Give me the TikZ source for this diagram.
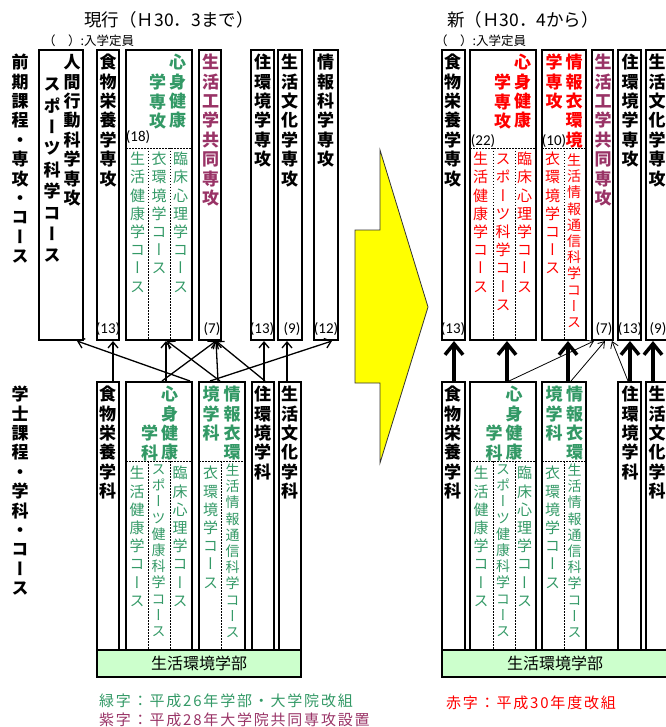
\documentclass[tikz,border=0pt]{standalone}
\usepackage{fontspec}
\setmainfont{Noto Sans CJK JP}
\newfontfamily\vjp[RawFeature=+vert]{Noto Sans CJK JP}
\newfontfamily\jpls[LetterSpace=12]{Noto Sans CJK JP}
\newfontfamily\numf{Carlito}
\usetikzlibrary{arrows.meta}
\definecolor{jgreen}{RGB}{51,153,102}
\definecolor{jpurple}{RGB}{153,51,102}
\definecolor{jred}{RGB}{255,0,0}
\definecolor{facgreen}{RGB}{204,255,204}
\definecolor{yarrow}{RGB}{255,255,0}
\newcommand\vstr{\rule{0pt}{.9em}}
\newcommand\bx[6][]{\node[box,#1,minimum width={(#5-#3)*1pt},minimum height={(#6-#4)*1pt}] (#2) at ({(#3+#5)/2},{(#4+#6)/2}) {};}
\begin{document}
\begin{tikzpicture}[x=1pt,y=-1pt,
  box/.style={draw,line width=2pt,inner sep=0pt},
  hb/.style={inner sep=0pt,anchor=north,align=center,font={\vjp\bfseries\fontsize{17}{19.4}\selectfont}},
  cs/.style={inner sep=0pt,anchor=north,align=center,font={\vjp\fontsize{15}{18.2}\selectfont}},
  csn/.style={inner sep=0pt,anchor=north,align=center,font={\vjp\fontsize{14}{16.2}\selectfont}},
  num/.style={inner sep=0pt,font={\numf\fontsize{15}{17}\selectfont}},
  sep/.style={line width=0.8pt,dash pattern=on 1.5pt off 1.5pt},
  thinarr/.style={line width=1.3pt,-{Straight Barb[length=6pt,width=10pt]}},
  thickarr/.style={line width=3.5pt,-{Straight Barb[length=11pt,width=18pt]}},
  hairarr/.style={line width=0.8pt,-{Straight Barb[length=6pt,width=8pt]}},
  foot/.style={inner sep=0pt,anchor=base west,font={\jpls\fontsize{15}{18}\selectfont}}
]
\useasboundingbox (0,0) rectangle (665,727);

% ---------- yellow arrow ----------
\filldraw[fill=yarrow,draw=black!80,line width=0.8pt]
  (380,150) -- (428,307) -- (380,463) -- (380,383) -- (355,383) -- (355,230) -- (380,230) -- cycle;

% ---------- titles ----------
\node[inner sep=0pt,anchor=base,font={\fontsize{17.5}{20}\selectfont}] (tL) at (169,26.5) {現行（Ｈ30．3まで）};
\node[inner sep=0pt,anchor=base,font={\fontsize{17.5}{20}\selectfont}] (tR) at (523,26.5) {新（Ｈ30．4から）};
\node[inner sep=0pt,anchor=base west,font={\fontsize{12.5}{14}\selectfont}] (capL) at (43,45.6) {（　）:入学定員};
\node[inner sep=0pt,anchor=base west,font={\fontsize{12.5}{14}\selectfont}] (capR) at (435,45.6) {（　）:入学定員};

% ---------- left upper boxes ----------
\bx{Uhum}{39}{50}{83}{340}
\bx{Ufood}{97}{50}{119}{340}
\bx{Umind}{126}{50}{192}{340}
\bx{Ueng}{199}{50}{221}{340}
\bx{Uhouse}{251}{50}{274}{340}
\bx{Ucult}{278}{50}{302}{340}
\bx{Uinfo}{314}{50}{338}{340}
% ---------- left lower boxes ----------
\bx{Lfood}{97}{382}{119}{650}
\bx{Lmind}{126}{382}{192}{650}
\bx{Linfo}{199}{382}{245}{650}
\bx{Lhouse}{252}{382}{274}{650}
\bx{Lcult}{279}{382}{301}{650}
\node[box,fill=facgreen,minimum width=204pt,minimum height=27pt,font={\fontsize{16}{18}\selectfont}] (Lfac) at (199,663.5) {生活環境学部};

% ---------- right upper boxes ----------
\bx{Rfood}{442}{50}{465}{340}
\bx{Rmind}{470}{50}{536}{340}
\bx{Rinfo}{542}{50}{586}{340}
\bx{Reng}{592}{50}{613}{340}
\bx{Rhouse}{618}{50}{641}{340}
\bx{Rcult}{646}{50}{672}{340}
% ---------- right lower boxes ----------
\bx{Sfood}{442}{382}{465}{650}
\bx{Smind}{470}{382}{536}{650}
\bx{Sinfo}{542}{382}{586}{650}
\bx{Shouse}{618}{382}{641}{650}
\bx{Scult}{646}{382}{672}{650}
\node[box,fill=facgreen,minimum width=226pt,minimum height=27pt,font={\fontsize{16}{18}\selectfont}] (Rfac) at (555,663.5) {生活環境学部};

% ---------- dotted separators ----------
\draw[sep] (126,148) -- (192,148) (148,148) -- (148,340) (170,148) -- (170,340);
\draw[sep] (126,461) -- (192,461) (148,461) -- (148,650) (170,461) -- (170,650);
\draw[sep] (199,461) -- (245,461) (221,461) -- (221,650);
\draw[sep] (470,148) -- (536,148) (493,148) -- (493,340) (515,148) -- (515,340);
\draw[sep] (542,148) -- (586,148) (564,148) -- (564,340);
\draw[sep] (470,461) -- (536,461) (493,461) -- (493,650) (515,461) -- (515,650);
\draw[sep] (542,461) -- (586,461) (564,461) -- (564,650);

% ---------- left arrows ----------
\draw[thinarr] ([xshift=17pt]Lfood.north west) -- ([xshift=17pt]Ufood.south west);
\draw[thinarr] ([xshift=65pt]Lmind.north west) -- ([xshift=39pt]Uhum.south west);
\draw[thinarr] ([xshift=41pt]Lmind.north west) -- ([xshift=41pt]Umind.south west);
\draw[thinarr] ([xshift=22pt]Linfo.north west) -- ([xshift=42pt]Umind.south west);
\draw[thinarr] ([xshift=37pt]Lmind.north west) -- ([xshift=18pt]Ueng.south west);
\draw[thinarr] ([xshift=20pt]Linfo.north west) -- ([xshift=18pt]Ueng.south west);
\draw[thinarr] ([xshift=14pt]Lhouse.north west) -- ([xshift=18pt]Ueng.south west);
\draw[thinarr] ([xshift=13pt]Lhouse.north west) -- ([xshift=14pt]Uhouse.south west);
\draw[thinarr] ([xshift=9pt]Lcult.north west) -- ([xshift=10pt]Ucult.south west);
\draw[thinarr] ([xshift=12pt]Linfo.north west) -- ([xshift=19pt]Uinfo.south west);

% ---------- right arrows ----------
\draw[thickarr] ([xshift=13pt]Sfood.north west) -- ([xshift=13pt]Rfood.south west);
\draw[thickarr] ([xshift=38pt]Smind.north west) -- ([xshift=38pt]Rmind.south west);
\draw[thickarr] ([xshift=27pt]Sinfo.north west) -- ([xshift=27pt]Rinfo.south west);
\draw[thickarr] ([xshift=13pt]Shouse.north west) -- ([xshift=13pt]Rhouse.south west);
\draw[thickarr] ([xshift=8pt]Scult.north west) -- ([xshift=8pt]Rcult.south west);
\draw[hairarr] ([xshift=40pt]Smind.north west) -- ([xshift=3pt]Reng.south west);
\draw[hairarr] ([xshift=30pt]Sinfo.north west) -- ([xshift=14pt]Reng.south west);
\draw[hairarr] ([xshift=11pt]Shouse.north west) -- ([xshift=21pt]Reng.south west);

% ---------- left labels ----------
\node[hb] (lab1) at (20,53.2) {\vstr 前\\期\\課\\程\\・\\専\\攻\\・\\コ\\ー\\ス};
\node[hb] (lab2) at (20,385.2) {\vstr 学\\士\\課\\程\\・\\学\\科\\・\\コ\\ー\\ス};

% ---------- left upper texts ----------
\node[hb] (tUhum1) at (72,53.2) {\vstr 人\\間\\行\\動\\科\\学\\専\\攻};
\node[hb,font={\vjp\bfseries\fontsize{17}{21.4}\selectfont}] (tUhum2) at (52,75.2) {\vstr ス\\ポ\\ー\\ツ\\科\\学\\コ\\ー\\ス};
\node[hb] (tUfood) at (108,53.2) {\vstr 食\\物\\栄\\養\\学\\専\\攻};
\node[hb,text=jgreen] (tUmind1) at (177.5,53.2) {\vstr 心\\身\\健\\康};
\node[hb,text=jgreen] (tUmind2) at (157.5,73.2) {\vstr 学\\専\\攻};
\node[num] (nUmind) at (138,137) {(18)};
\node[cs,text=jgreen] (cU1) at (137.5,151) {\vstr 生\\活\\健\\康\\学\\コ\\ー\\ス};
\node[cs,text=jgreen] (cU2) at (159,151) {\vstr 衣\\環\\境\\学\\コ\\ー\\ス};
\node[cs,text=jgreen] (cU3) at (180.5,151) {\vstr 臨\\床\\心\\理\\学\\コ\\ー\\ス};
\node[hb,text=jpurple] (tUeng) at (210.5,53.2) {\vstr 生\\活\\工\\学\\共\\同\\専\\攻};
\node[hb] (tUhouse) at (262.5,53.2) {\vstr 住\\環\\境\\学\\専\\攻};
\node[hb] (tUcult) at (289.5,53.2) {\vstr 生\\活\\文\\化\\学\\専\\攻};
\node[hb] (tUinfo) at (325.5,53.2) {\vstr 情\\報\\科\\学\\専\\攻};
\node[num] (nUfood) at (108,329) {(13)};
\node[num] (nUeng) at (212,329) {(7)};
\node[num] (nUhouse) at (262,329) {(13)};
\node[num] (nUcult) at (292,329) {(9)};
\node[num] (nUinfo) at (326,329) {(12)};

% ---------- left lower texts ----------
\node[hb] (tLfood) at (107.5,385.2) {\vstr 食\\物\\栄\\養\\学\\科};
\node[hb,text=jgreen] (tLmind1) at (169.5,385.2) {\vstr 心\\身\\健\\康};
\node[hb,text=jgreen] (tLmind2) at (149.5,424.2) {\vstr 学\\科};
\node[cs,text=jgreen] (cL1) at (137,465.2) {\vstr 生\\活\\健\\康\\学\\コ\\ー\\ス};
\node[csn,text=jgreen] (cL2) at (158.5,461.7) {\vstr ス\\ポ\\ー\\ツ\\健\\康\\科\\学\\コ\\ー\\ス};
\node[cs,text=jgreen] (cL3) at (180,465.2) {\vstr 臨\\床\\心\\理\\学\\コ\\ー\\ス};
\node[hb,text=jgreen] (tLinfo1) at (232,385.2) {\vstr 情\\報\\衣\\環};
\node[hb,text=jgreen] (tLinfo2) at (211,385.2) {\vstr 境\\学\\科};
\node[cs,text=jgreen] (cL4) at (210.5,465.2) {\vstr 衣\\環\\境\\学\\コ\\ー\\ス};
\node[csn,text=jgreen] (cL5) at (232.5,462.7) {\vstr 生\\活\\情\\報\\通\\信\\科\\学\\コ\\ー\\ス};
\node[hb] (tLhouse) at (262.5,385.2) {\vstr 住\\環\\境\\学\\科};
\node[hb] (tLcult) at (289.5,385.2) {\vstr 生\\活\\文\\化\\学\\科};

% ---------- right upper texts ----------
\node[hb] (tRfood) at (452.5,53.2) {\vstr 食\\物\\栄\\養\\学\\専\\攻};
\node[hb,text=jred] (tRmind1) at (522.5,53.2) {\vstr 心\\身\\健\\康};
\node[hb,text=jred] (tRmind2) at (502.5,73.2) {\vstr 学\\専\\攻};
\node[num] (nRmind) at (483,141) {(22)};
\node[cs,text=jred] (cR1) at (480.5,151) {\vstr 生\\活\\健\\康\\学\\コ\\ー\\ス};
\node[cs,text=jred] (cR2) at (503,151) {\vstr ス\\ポ\\ー\\ツ\\科\\学\\コ\\ー\\ス};
\node[cs,text=jred] (cR3) at (524.5,151) {\vstr 臨\\床\\心\\理\\学\\コ\\ー\\ス};
\node[hb,text=jred] (tRinfo1) at (574,53.2) {\vstr 情\\報\\衣\\環\\境};
\node[hb,text=jred] (tRinfo2) at (554,53.2) {\vstr 学\\専\\攻};
\node[num] (nRinfo) at (554,141) {(10)};
\node[cs,text=jred] (cR4) at (552.5,151) {\vstr 衣\\環\\境\\学\\コ\\ー\\ス};
\node[csn,text=jred] (cR5) at (574,152.7) {\vstr 生\\活\\情\\報\\通\\信\\科\\学\\コ\\ー\\ス};
\node[hb,text=jpurple] (tReng) at (603,53.2) {\vstr 生\\活\\工\\学\\共\\同\\専\\攻};
\node[hb] (tRhouse) at (630,53.2) {\vstr 住\\環\\境\\学\\専\\攻};
\node[hb] (tRcult) at (657,53.2) {\vstr 生\\活\\文\\化\\学\\専\\攻};
\node[num] (nRfood) at (453,329) {(13)};
\node[num] (nReng) at (604,329) {(7)};
\node[num] (nRhouse) at (630,329) {(13)};
\node[num] (nRcult) at (658,329) {(9)};

% ---------- right lower texts ----------
\node[hb] (tSfood) at (452.5,385.2) {\vstr 食\\物\\栄\\養\\学\\科};
\node[hb,text=jgreen] (tSmind1) at (514,385.2) {\vstr 心\\身\\健\\康};
\node[hb,text=jgreen] (tSmind2) at (494,424.2) {\vstr 学\\科};
\node[cs,text=jgreen] (cS1) at (481,465.2) {\vstr 生\\活\\健\\康\\学\\コ\\ー\\ス};
\node[csn,text=jgreen] (cS2) at (503,461.7) {\vstr ス\\ポ\\ー\\ツ\\健\\康\\科\\学\\コ\\ー\\ス};
\node[cs,text=jgreen] (cS3) at (524.5,465.2) {\vstr 臨\\床\\心\\理\\学\\コ\\ー\\ス};
\node[hb,text=jgreen] (tSinfo1) at (574.5,385.2) {\vstr 情\\報\\衣\\環};
\node[hb,text=jgreen] (tSinfo2) at (554,385.2) {\vstr 境\\学\\科};
\node[cs,text=jgreen] (cS4) at (552.5,465.2) {\vstr 衣\\環\\境\\学\\コ\\ー\\ス};
\node[csn,text=jgreen] (cS5) at (574.5,462.7) {\vstr 生\\活\\情\\報\\通\\信\\科\\学\\コ\\ー\\ス};
\node[hb] (tShouse) at (630,385.2) {\vstr 住\\環\\境\\学\\科};
\node[hb] (tScult) at (657,385.2) {\vstr 生\\活\\文\\化\\学\\科};

% ---------- footnotes ----------
\node[foot,text=jgreen] (fn1) at (99,706.7) {緑字：平成26年学部・大学院改組};
\node[foot,text=jpurple] (fn2) at (99,725.7) {紫字：平成28年大学院共同専攻設置};
\node[foot,text=jred] (fn3) at (446,708.7) {赤字：平成30年度改組};
\end{tikzpicture}
\end{document}
